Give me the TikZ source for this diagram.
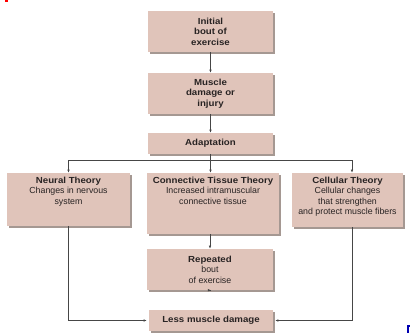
\documentclass[tikz,border=0pt]{standalone}
\usepackage{fontspec}
\setmainfont{Liberation Sans}[BoldFeatures={FakeStretch=1.1}]
\usetikzlibrary{arrows.meta,shadows}
\definecolor{boxfill}{RGB}{224,196,186}
\definecolor{shadowc}{RGB}{165,152,146}
\definecolor{linec}{RGB}{70,70,70}
\definecolor{txtc}{RGB}{40,35,35}
\tikzset{
  box/.style={fill=boxfill, inner sep=0pt, align=center, text=txtc,
    font=\fontsize{8.8}{10.5}\selectfont,
    drop shadow={shadow xshift=2pt, shadow yshift=-2pt, fill=shadowc, opacity=1}},
  conn/.style={draw=linec, line width=0.7pt, -{Latex[length=3.2pt,width=2.6pt]}},
  plain/.style={draw=linec, line width=0.7pt}
}
\newcommand{\topbox}[3]{\parbox[c][#2][t]{#1}{\centering\vspace*{4pt}#3}}
\begin{document}
\begin{tikzpicture}[x=1pt,y=-1pt]
\useasboundingbox (0,0) rectangle (410,333);
\fill[white] (0,0) rectangle (410,333);
% small marks
\fill[red] (5,0) rectangle (8,2);
\draw[blue!70!black, line width=1.2pt] (410,326) -- (408,326) -- (408,333);

\node[box, minimum width=125pt, minimum height=41pt] (init) at (210.5,31.5)
  {\textbf{Initial}\\\textbf{bout of}\\\textbf{exercise}};
\node[box, minimum width=125pt, minimum height=41pt] (dmg) at (210.5,93.5)
  {\textbf{Muscle}\\\textbf{damage or}\\\textbf{injury}};
\node[box, minimum width=125pt, minimum height=21pt] (adapt) at (210.5,143.5)
  {\textbf{Adaptation}};
\node[box] (neural) at (68.5,199.5)
  {\topbox{123pt}{53pt}{\textbf{Neural Theory}\\Changes in nervous\\system}};
\node[box] (ctt) at (213,203.5)
  {\topbox{132pt}{61pt}{\textbf{Connective Tissue Theory}\\Increased intramuscular\\connective tissue}};
\node[box] (cell) at (347.5,200)
  {\topbox{111pt}{54pt}{\textbf{Cellular Theory}\\Cellular changes\\that strengthen\\and protect muscle fibers}};
\node[box, minimum width=126pt, minimum height=41pt] (rep) at (210,269.5)
  {\textbf{Repeated}\\bout\\of exercise};
\node[box, minimum width=124pt, minimum height=21pt] (less) at (211,320.5)
  {\textbf{Less muscle damage}};

\coordinate (br) at (210.5,160);
\coordinate (cellx) at (352,200);

\draw[conn] (init) -- (dmg);
\draw[conn] (dmg) -- (adapt);
\draw[plain] (adapt) -- (br);
\draw[conn] (br) -| (neural.north);
\draw[conn] (br) -- (br |- ctt.north);
\draw[conn] (br) -| (cellx |- cell.north);
\draw[conn] (rep.north |- ctt.south) -- (rep.north);
\draw[conn] (rep) -- (rep.south -| less.north);
\draw[conn] (neural.south) |- ([xshift=-2pt]less.west);
\draw[conn] (cellx |- cell.south) |- ([xshift=2pt]less.east);
\end{tikzpicture}
\end{document}
